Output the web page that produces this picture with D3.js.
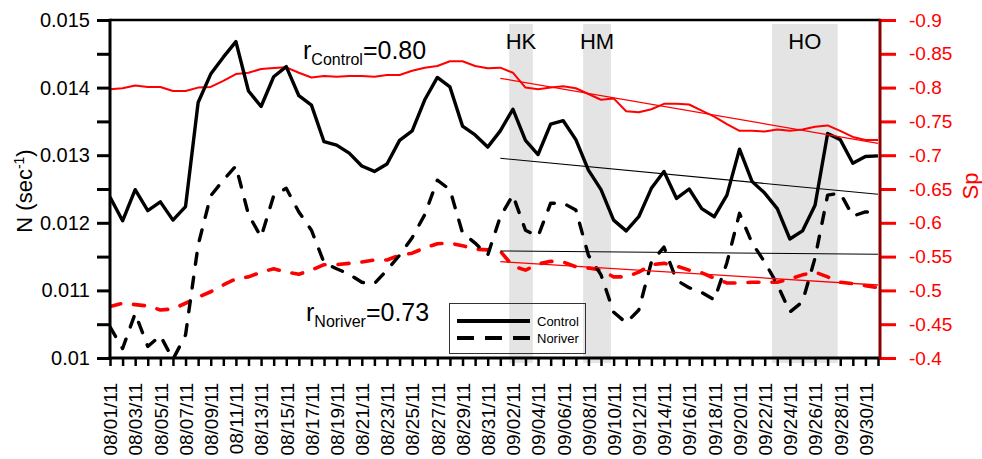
<!DOCTYPE html>
<html>
<head>
<meta charset="utf-8">
<script src="https://cdn.jsdelivr.net/npm/d3@7"></script>
<style>
  html, body { margin: 0; padding: 0; background: #fff; }
  svg { display: block; font-family: "Liberation Sans", Arial, sans-serif; }
</style>
</head>
<body>
<svg id="chart" width="982" height="459"></svg>
<script>
// ---------------- DATA ----------------
const startDate = new Date(2011, 7, 1);
const endDate = new Date(2011, 9, 2);
const dates = d3.timeDay.range(startDate, endDate); // 08/01/11 .. 10/01/11 (62 days)

const tickLabels = ["08/01/11","08/03/11","08/05/11","08/07/11","08/09/11","08/11/11","08/13/11","08/15/11",
  "08/17/11","08/19/11","08/21/11","08/23/11","08/25/11","08/27/11","08/29/11","08/31/11",
  "09/02/11","09/04/11","09/06/11","09/08/11","09/10/11","09/12/11","09/14/11","09/16/11",
  "09/18/11","09/20/11","09/22/11","09/24/11","09/26/11","09/28/11","09/30/11"];

const leftTicks = [0.01,0.0105,0.011,0.0115,0.012,0.0125,0.013,0.0135,0.014,0.0145,0.015];
const leftTickLabels = ["0.01","","0.011","","0.012","","0.013","","0.014","","0.015"];
const rightTickLabels = ["-0.9","-0.85","-0.8","-0.75","-0.7","-0.65","-0.6","-0.55","-0.5","-0.45","-0.4"];

const controlN = [0.01238,0.01203,0.01249,0.01218,0.01231,0.01204,0.01224,0.01378,0.01420,0.01445,
  0.01468,0.01395,0.01372,0.01416,0.01431,0.01388,0.01374,0.01320,0.01315,0.01303,
  0.01284,0.01276,0.01287,0.01322,0.01336,0.01382,0.01415,0.01401,0.01343,0.01330,
  0.01312,0.01336,0.01368,0.01322,0.01301,0.01346,0.01351,0.01323,0.01278,0.01249,
  0.01204,0.01188,0.01209,0.01251,0.01276,0.01236,0.01250,0.01221,0.01209,0.01241,
  0.01309,0.01261,0.01244,0.01221,0.01176,0.01188,0.01226,0.01332,0.01323,0.01288,
  0.01298,0.01299];

const noriverN = [0.01046,0.01014,0.01066,0.01017,0.01033,0.00998,0.01034,0.01167,0.01240,0.01263,
  0.01284,0.01212,0.01179,0.01240,0.01251,0.01216,0.01189,0.01141,0.01132,0.01124,
  0.01112,0.01110,0.01130,0.01152,0.01178,0.01212,0.01263,0.01249,0.01185,0.01170,
  0.01152,0.01209,0.01241,0.01189,0.01180,0.01229,0.01229,0.01219,0.01152,0.01123,
  0.01068,0.01052,0.01071,0.01142,0.01164,0.01115,0.01104,0.01097,0.01086,0.01141,
  0.01214,0.01170,0.01142,0.01109,0.01068,0.01083,0.01148,0.01241,0.01244,0.01210,
  0.01216,0.01216];

const controlSp = [-0.7975,-0.799,-0.803,-0.801,-0.801,-0.795,-0.795,-0.800,-0.801,-0.810,
  -0.820,-0.822,-0.8275,-0.829,-0.830,-0.822,-0.815,-0.817,-0.816,-0.817,
  -0.817,-0.816,-0.8186,-0.8186,-0.825,-0.8295,-0.832,-0.839,-0.839,-0.832,
  -0.8286,-0.8295,-0.822,-0.800,-0.7975,-0.800,-0.802,-0.799,-0.7905,-0.782,
  -0.784,-0.765,-0.7635,-0.768,-0.776,-0.776,-0.775,-0.766,-0.757,-0.746,
  -0.736,-0.736,-0.735,-0.738,-0.736,-0.738,-0.742,-0.744,-0.736,-0.727,
  -0.7225,-0.7225];

const noriverSp = [-0.476,-0.481,-0.479,-0.477,-0.471,-0.4725,-0.481,-0.490,-0.498,-0.508,
  -0.517,-0.520,-0.527,-0.532,-0.527,-0.524,-0.530,-0.538,-0.538,-0.540,
  -0.542,-0.545,-0.545,-0.552,-0.555,-0.563,-0.569,-0.570,-0.566,-0.561,
  -0.560,-0.558,-0.536,-0.530,-0.539,-0.543,-0.542,-0.535,-0.533,-0.530,
  -0.520,-0.520,-0.527,-0.538,-0.540,-0.536,-0.530,-0.526,-0.518,-0.511,
  -0.511,-0.512,-0.512,-0.512,-0.517,-0.523,-0.527,-0.520,-0.512,-0.510,
  -0.507,-0.504];

// trend lines (09/01/11 -> 10/01/11), values read at both ends
const trendDates = ["2011-09-01T00:00","2011-10-01T00:00"];
const controlNTrend = [0.012954, 0.012422];
const noriverNTrend = [0.011583, 0.011534];
const controlSpTrend = [-0.8138, -0.7176];
const noriverSpTrend = [-0.5425, -0.5080];

// hurricane periods
const bandLabels = ["HK","HM","HO"];
const bandStart = ["2011-09-01T17:00","2011-09-07T14:00","2011-09-22T14:00"];
const bandEnd   = ["2011-09-03T14:00","2011-09-09T19:00","2011-09-27T19:00"];

const rControl = "0.80";
const rNoriver = "0.73";
const seriesNames = ["Control","Noriver"];

// ---------------- LAYOUT ----------------
const svg = d3.select("#chart");
const L = 110, R = 880, T = 20, B = 358;
const parse = d3.timeParse("%Y-%m-%dT%H:%M");

const x = d3.scaleTime().domain([dates[0], dates[dates.length - 1]]).range([L, 878]);
const yN = d3.scaleLinear().domain([0.01, 0.015]).range([B, T]);
const ySp = d3.scaleLinear().domain([-0.4, -0.9]).range([B, T]);

// clip
svg.append("defs").append("clipPath").attr("id", "plotclip")
  .append("rect").attr("x", L).attr("y", T).attr("width", R - L).attr("height", B - T);

// bands
const bands = bandLabels.map((l, i) => ({ label: l, s: parse(bandStart[i]), e: parse(bandEnd[i]) }));
svg.append("g").selectAll("rect").data(bands).join("rect")
  .attr("x", d => x(d.s)).attr("width", d => x(d.e) - x(d.s))
  .attr("y", 24).attr("height", 363 - 24)
  .attr("fill", "#e4e4e4");

svg.append("g").selectAll("text").data(bands).join("text")
  .attr("x", d => (x(d.s) + x(d.e)) / 2).attr("y", 49)
  .attr("text-anchor", "middle").attr("font-size", 22).attr("fill", "#000")
  .text(d => d.label);

const plot = svg.append("g").attr("clip-path", "url(#plotclip)");

const lineN = d3.line().x((d, i) => x(dates[i])).y(d => yN(d));
const lineSp = d3.line().x((d, i) => x(dates[i])).y(d => ySp(d));

// Sp lines (red)
plot.append("path").datum(noriverSp).attr("d", lineSp)
  .attr("fill", "none").attr("stroke", "#ff0000").attr("stroke-width", 3.6)
  .attr("stroke-dasharray", "11,13").attr("stroke-linecap", "round").attr("stroke-linejoin", "round");
plot.append("path").datum(controlSp).attr("d", lineSp)
  .attr("fill", "none").attr("stroke", "#ff0000").attr("stroke-width", 2)
  .attr("stroke-linejoin", "round");

// N lines (black)
plot.append("path").datum(noriverN).attr("d", lineN)
  .attr("fill", "none").attr("stroke", "#000").attr("stroke-width", 3.4)
  .attr("stroke-dasharray", "11,13").attr("stroke-linecap", "round").attr("stroke-linejoin", "round");
plot.append("path").datum(controlN).attr("d", lineN)
  .attr("fill", "none").attr("stroke", "#000").attr("stroke-width", 3.4)
  .attr("stroke-linejoin", "round");

// trend lines
const td = trendDates.map(parse);
function trend(vals, scale, color, w) {
  plot.append("line")
    .attr("x1", x(td[0])).attr("y1", scale(vals[0]))
    .attr("x2", x(td[1])).attr("y2", scale(vals[1]))
    .attr("stroke", color).attr("stroke-width", w);
}
trend(controlNTrend, yN, "#000", 1.1);
trend(noriverNTrend, yN, "#000", 1.1);
trend(controlSpTrend, ySp, "#ff0000", 1.3);
trend(noriverSpTrend, ySp, "#ff0000", 1.3);

// correlation labels
function rLabel(xp, yp, sub, val) {
  const t = svg.append("text").attr("x", xp).attr("y", yp).attr("font-size", 25).attr("fill", "#000");
  t.append("tspan").text("r");
  t.append("tspan").attr("font-size", 16).attr("dy", 6.5).text(sub);
  t.append("tspan").attr("dy", -6.5).text("=" + val);
}
rLabel(303, 58.5, seriesNames[0], rControl);
rLabel(306, 320.5, seriesNames[1], rNoriver);

// legend
const lg = svg.append("g");
lg.append("rect").attr("x", 449.5).attr("y", 303.5).attr("width", 136).attr("height", 50)
  .attr("fill", "none").attr("stroke", "#333").attr("stroke-width", 1);
lg.append("line").attr("x1", 457).attr("x2", 530).attr("y1", 321).attr("y2", 321)
  .attr("stroke", "#000").attr("stroke-width", 4);
lg.append("line").attr("x1", 457).attr("x2", 530).attr("y1", 338).attr("y2", 338)
  .attr("stroke", "#000").attr("stroke-width", 4).attr("stroke-dasharray", "17,11");
lg.append("text").attr("x", 537).attr("y", 325.5).attr("font-size", 13).text(seriesNames[0]);
lg.append("text").attr("x", 537).attr("y", 343).attr("font-size", 13).text(seriesNames[1]);

// ---------------- AXES ----------------
// left axis
const axL = svg.append("g").attr("transform", `translate(${L},0)`)
  .call(d3.axisLeft(yN).tickValues(leftTicks).tickSize(13).tickPadding(7).tickSizeOuter(0)
    .tickFormat((d, i) => leftTickLabels[i]));
axL.select(".domain").remove();
axL.selectAll(".tick line").attr("stroke", "#000").attr("stroke-width", 3);
axL.selectAll(".tick text").attr("font-size", 20).attr("fill", "#000")
  .attr("font-family", "Liberation Sans, Arial, sans-serif");

// right axis
const axR = svg.append("g").attr("transform", `translate(${R},0)`)
  .call(d3.axisRight(ySp).tickValues(rightTickLabels.map(Number)).tickSize(16).tickPadding(13).tickSizeOuter(0)
    .tickFormat((d, i) => rightTickLabels[i]));
axR.select(".domain").remove();
axR.selectAll(".tick line").attr("stroke", "#ff0000").attr("stroke-width", 3);
axR.selectAll(".tick text").attr("font-size", 19).attr("fill", "#ff0000")
  .attr("font-family", "Liberation Sans, Arial, sans-serif");

// bottom axis
const axB = svg.append("g").attr("transform", `translate(0,${B})`)
  .call(d3.axisBottom(x).tickValues(dates).tickSize(8).tickSizeOuter(0)
    .tickFormat((d, i) => (i % 2 === 0 && i / 2 < tickLabels.length) ? tickLabels[i / 2] : ""));
axB.select(".domain").remove();
axB.selectAll(".tick line").attr("stroke", "#000").attr("stroke-width", 2.5);
axB.selectAll(".tick text")
  .attr("x", 0).attr("y", 0).attr("dy", null)
  .attr("text-anchor", "end")
  .attr("transform", "translate(6.8,25) rotate(-90)")
  .attr("font-size", 19).attr("fill", "#000")
  .attr("font-family", "Liberation Sans, Arial, sans-serif");

// frame
svg.append("line").attr("x1", L).attr("x2", R).attr("y1", T).attr("y2", T).attr("stroke", "#000").attr("stroke-width", 2.5);
svg.append("line").attr("x1", L - 1.5).attr("x2", R).attr("y1", B).attr("y2", B).attr("stroke", "#000").attr("stroke-width", 3);
svg.append("line").attr("x1", L).attr("x2", L).attr("y1", T - 1.2).attr("y2", B + 1.5).attr("stroke", "#000").attr("stroke-width", 3);
svg.append("line").attr("x1", R).attr("x2", R).attr("y1", T - 1.2).attr("y2", B + 1.5).attr("stroke", "#8b0000").attr("stroke-width", 3);

// axis titles
const tN = svg.append("text").attr("transform", "translate(32,191) rotate(-90)")
  .attr("text-anchor", "middle").attr("font-size", 22).attr("fill", "#000");
tN.append("tspan").text("N (sec");
tN.append("tspan").attr("font-size", 14).attr("dy", -8).text("-1");
tN.append("tspan").attr("dy", 8).text(")");

svg.append("text").attr("transform", "translate(978,186) rotate(-90)")
  .attr("text-anchor", "middle").attr("font-size", 22).attr("fill", "#ff0000").text("Sp");
</script>
</body>
</html>
